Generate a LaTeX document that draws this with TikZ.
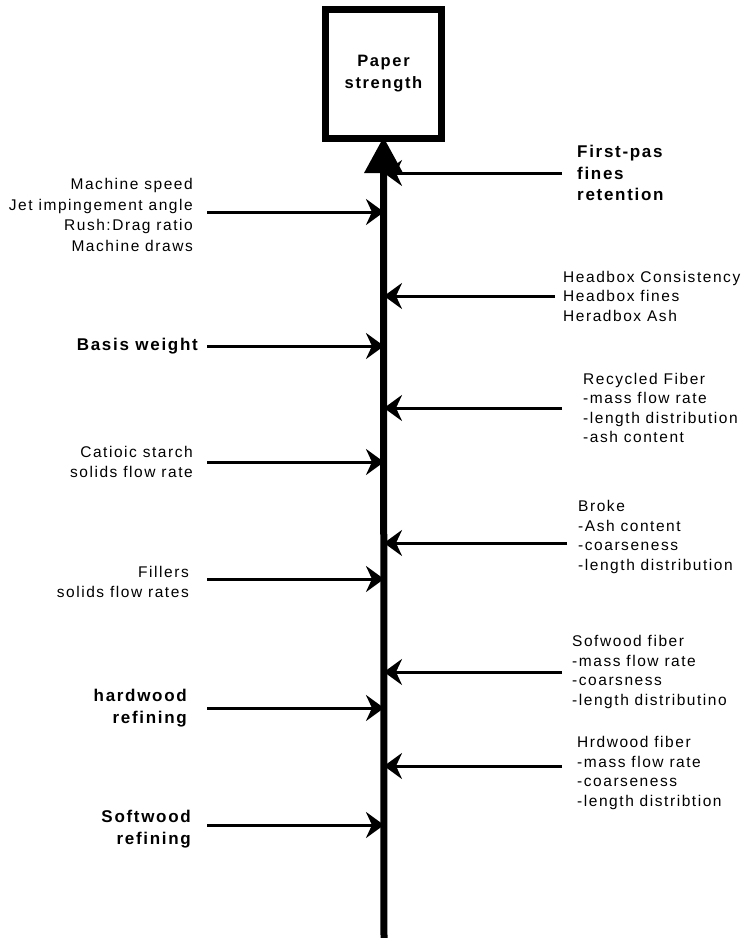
\documentclass[tikz,border=0pt]{standalone}
\usepackage{fontspec}
\setmainfont{Liberation Sans}[LetterSpace=10]
\usetikzlibrary{positioning,arrows.meta}
\tikzset{semithick,
goal/.style ={draw, line width=7pt, minimum width=116pt, minimum height=129pt,
  inner sep=0pt, align=center, font=\fontsize{16.5}{22}\selectfont\bfseries},
factor/.style ={inner sep=0pt, align=right, font=\fontsize{15.5}{20.5}\selectfont},
input/.style ={inner sep=0pt, align=left, font=\fontsize{15.5}{19.5}\selectfont},
key/.style ={font=\fontsize{17}{21.5}\selectfont\bfseries},
spine/.style ={line width=7pt, -{Triangle[length=36pt, width=37pt]}},
feed/.style ={line width=3pt, -{Stealth[length=18pt, width=26pt, inset=6pt]}}}

\begin{document}
\begin{tikzpicture}[x=1pt, y=-1pt]
\useasboundingbox (0,0) rectangle (742,938);
\node[goal] (strength) at (383.5,74) {Paper\\strength};
\coordinate (bottom) at (384,940);
\draw[spine] (bottom) -- ([yshift=5pt]strength.south);

% tails of the arrows from the left
\coordinate (l1) at (207,212);
\coordinate (l2) at (207,346);
\coordinate (l3) at (207,462);
\coordinate (l4) at (207,579);
\coordinate (l5) at (207,708);
\coordinate (l6) at (207,825);
% tails of the arrows from the right
\coordinate (r1) at (562,173);
\coordinate (r2) at (555,296);
\coordinate (r3) at (562,408);
\coordinate (r4) at (567,543);
\coordinate (r5) at (562,672);
\coordinate (r6) at (562,766);

\node[factor] (speed) [left=14pt of l1, yshift=-3pt]
  {Machine speed\\Jet impingement angle\\Rush:Drag ratio\\Machine draws};
\node[factor, key] (basis) [left=9pt of l2] {Basis weight};
\node[factor] (starch) [left=14pt of l3] {Catioic starch\\solids flow rate};
\node[factor] (fillers) [left=18pt of l4, yshift=-3pt] {Fillers\\solids flow rates};
\node[factor, key] (hwref) [left=20pt of l5] {hardwood\\refining};
\node[factor, key] (swref) [left=16pt of l6, yshift=-4pt] {Softwood\\refining};

\node[input, key] (retention) [right=15pt of r1] {First-pas\\fines\\retention};
\node[input] (headbox) [right=8pt of r2] {Headbox Consistency\\Headbox fines\\Heradbox Ash};
\node[input] (recycled) [right=21pt of r3]
  {Recycled Fiber\\-mass flow rate\\-length distribution\\-ash content};
\node[input] (broke) [right=11pt of r4, yshift=6pt]
  {Broke\\-Ash content\\-coarseness\\-length distribution};
\node[input] (swfiber) [right=10pt of r5]
  {Sofwood fiber\\-mass flow rate\\-coarsness\\-length distributino};
\node[input] (hwfiber) [right=15pt of r6, yshift=-7pt]
  {Hrdwood fiber\\-mass flow rate\\-coarseness\\-length distribtion};

\draw[feed] (l1) -- (l1 -| bottom);
\draw[feed] (l2) -- (l2 -| bottom);
\draw[feed] (l3) -- (l3 -| bottom);
\draw[feed] (l4) -- (l4 -| bottom);
\draw[feed] (l5) -- (l5 -| bottom);
\draw[feed] (l6) -- (l6 -| bottom);
\draw[feed] (r1) -- (r1 -| bottom);
\draw[feed] (r2) -- (r2 -| bottom);
\draw[feed] (r3) -- (r3 -| bottom);
\draw[feed] (r4) -- (r4 -| bottom);
\draw[feed] (r5) -- (r5 -| bottom);
\draw[feed] (r6) -- (r6 -| bottom);
\end{tikzpicture}
\end{document}
